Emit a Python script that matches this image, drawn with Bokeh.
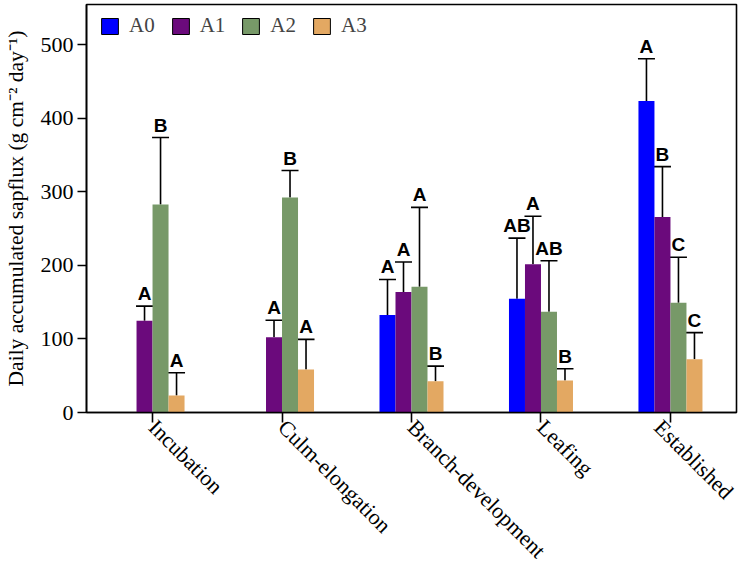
import math
from bokeh.plotting import figure
from bokeh.models import (ColumnDataSource, FactorRange, Range1d, Whisker, TeeHead, Legend,
                          LegendItem, FixedTicker)
from bokeh.transform import dodge
from bokeh.core.properties import value
from bokeh.embed import file_html
from bokeh.resources import INLINE

NaN = float("nan")

stages = ["Incubation", "Culm-elongation", "Branch-development", "Leafing", "Established"]
series = ["A0", "A1", "A2", "A3"]
colors = ["#0000FF", "#6B0A7C", "#779968", "#E3A862"]

mean_A0 = [NaN, NaN, 132.5, 154.7, 423.8]
mean_A1 = [124.7, 102.5, 163.8, 201.5, 265.9]
mean_A2 = [283.0, 292.6, 171.0, 137.0, 149.2]
mean_A3 = [23.0, 58.5, 42.6, 43.5, 72.6]

sd_A0 = [NaN, NaN, 48.5, 82.5, 57.5]
sd_A1 = [20.0, 23.0, 41.0, 65.5, 68.5]
sd_A2 = [91.0, 36.5, 108.0, 69.5, 62.0]
sd_A3 = [31.0, 41.0, 20.5, 16.0, 36.0]

sig_A0 = ["", "", "A", "AB", "A"]
sig_A1 = ["A", "A", "A", "A", "B"]
sig_A2 = ["B", "B", "A", "AB", "C"]
sig_A3 = ["A", "A", "B", "B", "C"]

y_ticks = [0, 100, 200, 300, 400, 500]

means = [mean_A0, mean_A1, mean_A2, mean_A3]
sds = [sd_A0, sd_A1, sd_A2, sd_A3]
sigs = [sig_A0, sig_A1, sig_A2, sig_A3]

p = figure(
    x_range=FactorRange(*stages, range_padding=0.004),
    y_range=Range1d(0, 555),
    width=738, height=574,
    output_backend="svg", toolbar_location=None,
    min_border_left=86, min_border_right=2, min_border_top=4, min_border_bottom=162,
)

bw = 0.1236
offsets = [-1.5 * bw, -0.5 * bw, 0.5 * bw, 1.5 * bw]

legend_items = []
for i, s in enumerate(series):
    upper = [m + d for m, d in zip(means[i], sds[i])]
    src = ColumnDataSource(dict(stage=stages, mean=means[i], upper=upper, sig=sigs[i]))
    xd = dodge("stage", offsets[i], range=p.x_range)
    p.vbar(x=xd, top="mean", bottom=0, width=bw, source=src,
           fill_color=colors[i], line_color=None)
    w = Whisker(base=xd, upper="upper", lower="mean", source=src,
                upper_head=TeeHead(size=17, line_color="black", line_width=1.6),
                lower_head=None, line_color="black", line_width=1.6)
    p.add_layout(w)
    p.text(x=xd, y="upper", text="sig", source=src,
           text_font=value("Liberation Sans"), text_font_style="bold",
           text_font_size="19px", text_color="black",
           text_align="center", text_baseline="bottom", y_offset=-2)
    swatch = p.vbar(x=xd, top="mean", bottom=0, width=bw, source=src,
                    fill_color=colors[i], line_color="black", line_width=1, visible=False)
    legend_items.append(LegendItem(label=s, renderers=[swatch]))

legend = Legend(items=legend_items, orientation="horizontal", location=(13, 374),
                padding=5, margin=0, spacing=15, label_standoff=9,
                glyph_width=21, glyph_height=20, label_height=20,
                label_text_font="Liberation Serif", label_text_font_size="21px",
                background_fill_alpha=0, border_line_color=None)
p.add_layout(legend)

p.xgrid.grid_line_color = None
p.ygrid.grid_line_color = None
p.outline_line_color = "black"
p.outline_line_width = 1.6

p.yaxis.ticker = FixedTicker(ticks=y_ticks)
p.yaxis.minor_tick_line_color = None
p.yaxis.major_tick_out = 9
p.yaxis.major_tick_in = 0
p.yaxis.major_label_standoff = 4
p.yaxis.axis_label = "Daily accumulated sapflux (g cm\u207b\u00b2 day\u207b\u00b9)"
p.yaxis.axis_label_standoff = 10

p.xaxis.major_tick_out = 10
p.xaxis.major_tick_in = 0
p.xaxis.major_label_orientation = -math.pi / 4
p.xaxis.major_label_standoff = 1

for ax in [p.xaxis, p.yaxis]:
    ax.axis_line_color = "black"
    ax.axis_line_width = 1.6
    ax.major_tick_line_color = "black"
    ax.major_tick_line_width = 1.6
    ax.major_label_text_font = "Liberation Serif"
    ax.major_label_text_font_size = "22px"
    ax.major_label_text_color = "black"
    ax.axis_label_text_font = "Liberation Serif"
    ax.axis_label_text_font_size = "21.5px"
    ax.axis_label_text_font_style = "normal"
    ax.axis_label_text_color = "black"

open("out.html", "w").write(file_html(p, INLINE))
